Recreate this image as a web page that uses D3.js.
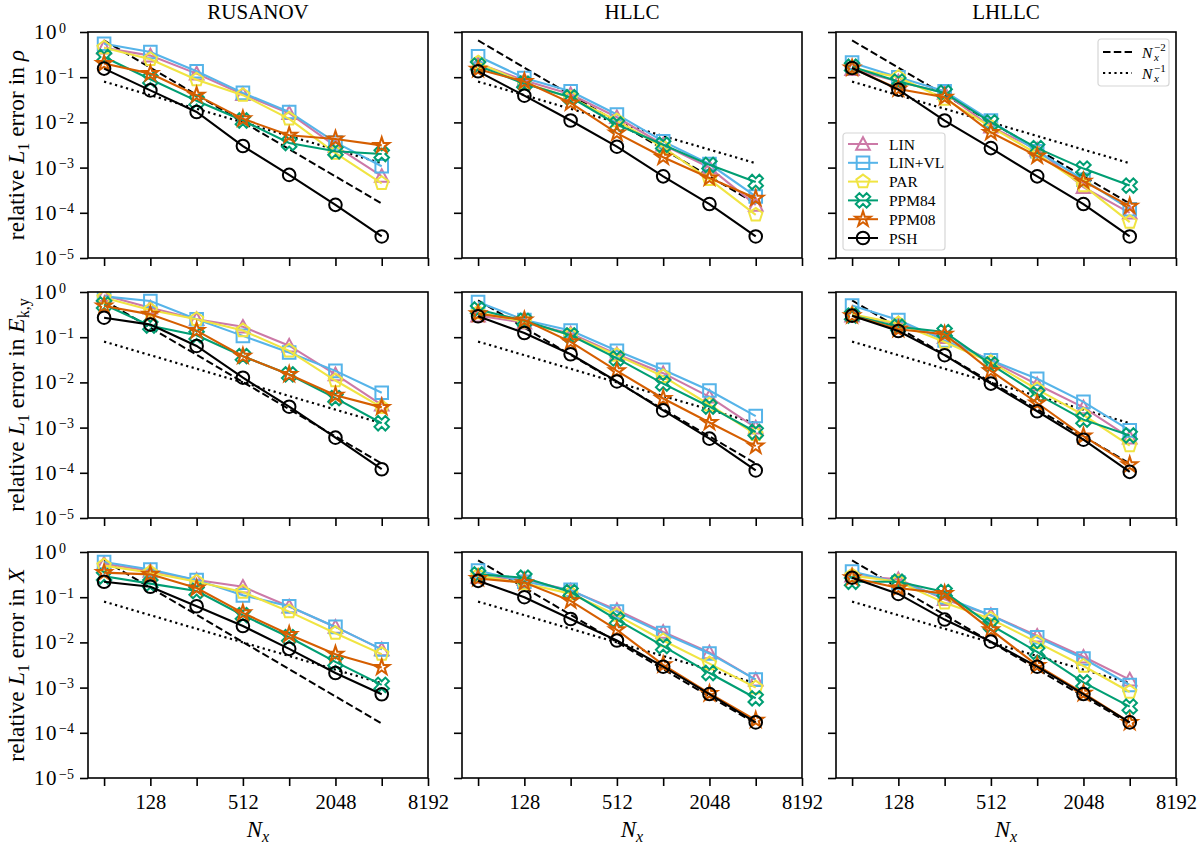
<html>
<head>
	<title>Convergence of L1 errors</title>
	<script src="https://d3js.org/d3.v7.min.js"></script>
</head>
<body>
	<style> *{
		margin: 0px;
		padding: 0px;
	}
	body { background: white; }
	text { font-family: "Liberation Serif", "DejaVu Serif", serif; fill: black; }
	</style>

	<svg id="SVGcanvas" xmlns="http://www.w3.org/2000/svg" width="1200" height="844"></svg>

	<script>
	// grid resolutions and axis ticks
	var nx = [64, 128, 256, 512, 1024, 2048, 4096];
	var xTicks = [64, 128, 256, 512, 1024, 2048, 4096, 8192];
	var xTickLabels = [128, 512, 2048, 8192];
	var yTicks = [1, 1e-1, 1e-2, 1e-3, 1e-4, 1e-5];
	var yTickExps = ["0", "\u22121", "\u22122", "\u22123", "\u22124", "\u22125"];

	var solvers = ["RUSANOV", "HLLC", "LHLLC"];
	var methods = ["LIN", "LIN+VL", "PAR", "PPM84", "PPM08", "PSH"];
	var methodColors = ["#CC79A7", "#56B4E9", "#F0E442", "#009E73", "#D55E00", "#000000"];
	var methodMarkers = ["triangle", "square", "pentagon", "xfilled", "star", "circle"];

	// reference slopes, drawn between the first and last resolution
	var refNx = [64, 4096];
	var refSlope2 = [0.65, 1.6e-4];
	var refSlope1 = [0.08, 1.25e-3];

	// errors, one row per method (LIN, LIN+VL, PAR, PPM84, PPM08, PSH)
	var rusanovRho = [
		[0.45, 0.30, 0.12, 0.042, 0.016, 3.0e-3, 6.5e-4],
		[0.55, 0.36, 0.135, 0.045, 0.017, 3.6e-3, 1.07e-3],
		[0.45, 0.25, 0.088, 0.040, 0.012, 2.1e-3, 4.5e-4],
		[0.28, 0.09, 0.030, 0.011, 3.5e-3, 2.3e-3, 2.0e-3],
		[0.20, 0.12, 0.040, 0.012, 5.2e-3, 4.3e-3, 3.1e-3],
		[0.155, 0.051, 0.017, 3.0e-3, 6.9e-4, 1.5e-4, 3.0e-5]
	];
	var hllcRho = [
		[0.20, 0.085, 0.042, 0.013, 3.2e-3, 1.0e-3, 1.5e-4],
		[0.29, 0.096, 0.049, 0.015, 3.8e-3, 1.2e-3, 2.3e-4],
		[0.21, 0.075, 0.035, 0.011, 2.8e-3, 5.5e-4, 9.0e-5],
		[0.18, 0.072, 0.036, 0.009, 3.2e-3, 1.15e-3, 4.8e-4],
		[0.15, 0.080, 0.027, 5.8e-3, 1.7e-3, 5.9e-4, 2.1e-4],
		[0.135, 0.039, 0.011, 2.9e-3, 6.4e-4, 1.56e-4, 3.0e-5]
	];
	var lhllcRho = [
		[0.15, 0.080, 0.045, 8.0e-3, 2.5e-3, 3.7e-4, 1.0e-4],
		[0.21, 0.10, 0.049, 0.011, 2.3e-3, 5.4e-4, 1.2e-4],
		[0.16, 0.10, 0.033, 8.0e-3, 2.0e-3, 4.0e-4, 6.2e-5],
		[0.17, 0.080, 0.045, 0.010, 2.7e-3, 9.5e-4, 4.0e-4],
		[0.16, 0.055, 0.036, 6.0e-3, 1.8e-3, 5.0e-4, 1.4e-4],
		[0.16, 0.053, 0.011, 2.7e-3, 6.4e-4, 1.56e-4, 3.0e-5]
	];
	var rusanovEky = [
		[0.85, 0.45, 0.25, 0.17, 0.065, 0.015, 3.2e-3],
		[0.80, 0.63, 0.25, 0.107, 0.046, 0.018, 5.9e-3],
		[0.75, 0.40, 0.25, 0.14, 0.050, 0.011, 2.8e-3],
		[0.53, 0.18, 0.11, 0.038, 0.015, 4.5e-3, 1.25e-3],
		[0.49, 0.32, 0.14, 0.038, 0.015, 5.2e-3, 2.8e-3],
		[0.27, 0.19, 0.064, 0.0127, 2.9e-3, 6.0e-4, 1.2e-4]
	];
	var hllcEky = [
		[0.30, 0.21, 0.12, 0.042, 0.016, 4.8e-3, 1.0e-3],
		[0.60, 0.24, 0.14, 0.050, 0.019, 6.6e-3, 1.8e-3],
		[0.35, 0.22, 0.11, 0.040, 0.0136, 3.2e-3, 7.1e-4],
		[0.41, 0.23, 0.11, 0.034, 9.4e-3, 2.9e-3, 8.0e-4],
		[0.33, 0.24, 0.079, 0.018, 4.4e-3, 1.3e-3, 3.9e-4],
		[0.29, 0.124, 0.042, 0.0105, 2.4e-3, 5.7e-4, 1.13e-4]
	];
	var lhllcEky = [
		[0.30, 0.20, 0.10, 0.030, 9.0e-3, 2.8e-3, 6.0e-4],
		[0.50, 0.24, 0.085, 0.031, 0.012, 3.7e-3, 8.7e-4],
		[0.32, 0.20, 0.078, 0.028, 7.0e-3, 1.9e-3, 4.0e-4],
		[0.30, 0.17, 0.13, 0.025, 5.5e-3, 1.5e-3, 6.7e-4],
		[0.30, 0.15, 0.116, 0.018, 3.5e-3, 6.5e-4, 1.5e-4],
		[0.30, 0.137, 0.040, 9.4e-3, 2.3e-3, 5.4e-4, 1.05e-4]
	];
	var rusanovX = [
		[0.55, 0.38, 0.24, 0.17, 0.062, 0.022, 7.0e-3],
		[0.60, 0.41, 0.24, 0.11, 0.063, 0.022, 7.0e-3],
		[0.50, 0.35, 0.22, 0.13, 0.048, 0.016, 5.5e-3],
		[0.29, 0.20, 0.137, 0.040, 0.013, 3.7e-3, 1.15e-3],
		[0.35, 0.32, 0.16, 0.045, 0.015, 5.5e-3, 2.8e-3],
		[0.22, 0.17, 0.063, 0.023, 7.2e-3, 2.1e-3, 7.1e-4]
	];
	var hllcX = [
		[0.28, 0.25, 0.14, 0.052, 0.017, 6.0e-3, 1.5e-3],
		[0.39, 0.22, 0.145, 0.048, 0.016, 5.7e-3, 1.5e-3],
		[0.30, 0.20, 0.12, 0.040, 0.011, 3.4e-3, 1.0e-3],
		[0.32, 0.27, 0.13, 0.032, 8.3e-3, 2.1e-3, 5.8e-4],
		[0.26, 0.21, 0.083, 0.019, 3.2e-3, 7.4e-4, 1.9e-4],
		[0.23, 0.10, 0.033, 0.011, 2.9e-3, 7.2e-4, 1.7e-4]
	];
	var lhllcX = [
		[0.30, 0.25, 0.090, 0.040, 0.014, 4.8e-3, 1.5e-3],
		[0.37, 0.21, 0.10, 0.040, 0.013, 4.4e-3, 1.14e-3],
		[0.30, 0.22, 0.075, 0.033, 0.010, 3.0e-3, 8.0e-4],
		[0.22, 0.22, 0.13, 0.024, 6.2e-3, 1.3e-3, 3.8e-4],
		[0.27, 0.16, 0.12, 0.019, 3.1e-3, 7.5e-4, 1.7e-4],
		[0.27, 0.118, 0.032, 0.0104, 2.9e-3, 7.2e-4, 1.7e-4]
	];

	var panels = [
		[rusanovRho, hllcRho, lhllcRho],
		[rusanovEky, hllcEky, lhllcEky],
		[rusanovX, hllcX, lhllcX]
	];

	// layout
	var colLeft = [88, 462, 836], panelWidth = 340;
	var rowTop = [32, 292, 552], panelHeight = 226;
	var tickLen = 8;

	var svg = d3.select( "#SVGcanvas" );

	var xScale = d3.scaleLog().domain( [50.3, 8192] ).range( [0, panelWidth] );
	var yScale = d3.scaleLog().domain( [1e-5, 1] ).range( [panelHeight, 0] );

	// marker outlines, centred on 0,0
	function markerPath( kind ) {
		var r = 6.3, i, pts = [];
		if ( kind == "circle" ) return d3.symbol().type( d3.symbolCircle ).size( Math.PI * r * r )();
		if ( kind == "square" ) return "M" + (-r) + "," + (-r) + "H" + r + "V" + r + "H" + (-r) + "Z";
		if ( kind == "triangle" ) return "M0," + (-r - 0.5) + "L" + (r + 0.5) + "," + (r - 0.5) + "L" + (-r - 0.5) + "," + (r - 0.5) + "Z";
		if ( kind == "pentagon" ) {
			for ( i = 0; i < 5; i++ ) {
				var a = -Math.PI / 2 + i * 2 * Math.PI / 5;
				pts.push( [ (r + 0.7) * Math.cos( a ), (r + 0.7) * Math.sin( a ) ] );
			}
			return "M" + pts.join( "L" ) + "Z";
		}
		if ( kind == "star" ) {
			for ( i = 0; i < 10; i++ ) {
				var b = -Math.PI / 2 + i * Math.PI / 5;
				var rr = ( i % 2 == 0 ) ? r + 1.8 : ( r + 1.8 ) * 0.381966;
				pts.push( [ rr * Math.cos( b ), rr * Math.sin( b ) ] );
			}
			return "M" + pts.join( "L" ) + "Z";
		}
		if ( kind == "xfilled" ) {
			var s = 14.5;
			var q = [ [0.25, 0], [0.5, 0.25], [0.25, 0.5], [0, 0.25], [-0.25, 0.5], [-0.5, 0.25],
				[-0.25, 0], [-0.5, -0.25], [-0.25, -0.5], [0, -0.25], [0.25, -0.5], [0.5, -0.25] ];
			return "M" + q.map( function ( p ) { return [ p[0] * s, p[1] * s ]; } ).join( "L" ) + "Z";
		}
	}

	function drawPanel( row, col ) {
		var data = panels[row][col];
		var g = svg.append( "g" ).attr( "transform", "translate(" + colLeft[col] + "," + rowTop[row] + ")" );

		g.append( "clipPath" ).attr( "id", "clip" + row + col )
			.append( "rect" ).attr( "width", panelWidth ).attr( "height", panelHeight );

		var plot = g.append( "g" ).attr( "clip-path", "url(#clip" + row + col + ")" );

		var line = d3.line()
			.x( function ( d ) { return xScale( d[0] ); } )
			.y( function ( d ) { return yScale( d[1] ); } );

		// reference slopes
		plot.append( "path" )
			.attr( "d", line( d3.zip( refNx, refSlope2 ) ) )
			.attr( "fill", "none" ).attr( "stroke", "black" ).attr( "stroke-width", 2 )
			.attr( "stroke-dasharray", "7.5,3.3" );
		plot.append( "path" )
			.attr( "d", line( d3.zip( refNx, refSlope1 ) ) )
			.attr( "fill", "none" ).attr( "stroke", "black" ).attr( "stroke-width", 2.2 )
			.attr( "stroke-dasharray", "2.2,3.5" );

		for ( var m = 0; m < methods.length; m++ ) {
			var pts = d3.zip( nx, data[m] );
			plot.append( "path" )
				.attr( "d", line( pts ) )
				.attr( "fill", "none" ).attr( "stroke", methodColors[m] ).attr( "stroke-width", 2.1 );
			plot.selectAll( null ).data( pts ).enter()
				.append( "path" )
				.attr( "d", markerPath( methodMarkers[m] ) )
				.attr( "transform", function ( d ) { return "translate(" + xScale( d[0] ) + "," + yScale( d[1] ) + ")"; } )
				.attr( "fill", "none" ).attr( "stroke", methodColors[m] ).attr( "stroke-width", 2 )
				.attr( "stroke-linejoin", "miter" );
		}

		// frame
		g.append( "rect" ).attr( "width", panelWidth ).attr( "height", panelHeight )
			.attr( "fill", "none" ).attr( "stroke", "black" ).attr( "stroke-width", 1.6 );

		// x ticks
		var xAxis = d3.axisBottom( xScale ).tickValues( xTicks ).tickSize( tickLen )
			.tickFormat( function ( d ) {
				return ( row == 2 && xTickLabels.indexOf( d ) >= 0 ) ? d : "";
			} );
		var xg = g.append( "g" ).attr( "transform", "translate(0," + panelHeight + ")" ).call( xAxis );
		xg.select( ".domain" ).remove();
		xg.selectAll( ".tick line" ).attr( "stroke", "black" ).attr( "stroke-width", 1.6 );
		xg.selectAll( ".tick text" )
			.attr( "font-family", "Liberation Serif" ).attr( "font-size", 20.5 )
			.attr( "fill", "black" ).attr( "dy", null ).attr( "y", 31 );

		// y ticks
		var yAxis = d3.axisLeft( yScale ).tickValues( yTicks ).tickSize( tickLen ).tickFormat( "" );
		var yg = g.append( "g" ).call( yAxis );
		yg.select( ".domain" ).remove();
		yg.selectAll( ".tick line" ).attr( "stroke", "black" ).attr( "stroke-width", 1.6 );

		if ( col == 0 ) {
			yTicks.forEach( function ( t, i ) {
				var ty = yScale( t );
				g.append( "text" ).attr( "x", -30 ).attr( "y", ty + 7 )
					.attr( "text-anchor", "end" ).attr( "font-size", 21 ).attr( "letter-spacing", 1.5 )
					.text( "10" );
				g.append( "text" ).attr( "x", -29 ).attr( "y", ty + 0.5 )
					.attr( "font-size", 14 ).text( yTickExps[i] );
			} );
		}
	}

	for ( var r = 0; r < 3; r++ )
		for ( var c = 0; c < 3; c++ )
			drawPanel( r, c );

	// column titles
	solvers.forEach( function ( s, c ) {
		svg.append( "text" ).attr( "x", colLeft[c] + panelWidth / 2 ).attr( "y", 19 )
			.attr( "text-anchor", "middle" ).attr( "font-size", 21 ).text( s );
	} );

	// x labels
	colLeft.forEach( function ( x0 ) {
		var t = svg.append( "text" ).attr( "x", x0 + panelWidth / 2 ).attr( "y", 837 )
			.attr( "text-anchor", "middle" ).attr( "font-size", 23 );
		t.append( "tspan" ).attr( "font-style", "italic" ).text( "N" );
		t.append( "tspan" ).attr( "font-style", "italic" ).attr( "font-size", 16 ).attr( "dy", 5 ).text( "x" );
	} );

	// y labels
	var yLabelEnds = [
		function ( t ) { t.append( "tspan" ).attr( "font-style", "italic" ).text( "\u03c1" ); },
		function ( t ) {
			t.append( "tspan" ).attr( "font-style", "italic" ).text( "E" );
			t.append( "tspan" ).attr( "font-size", 16 ).attr( "dy", 5 ).text( "k,y" );
		},
		function ( t ) { t.append( "tspan" ).attr( "font-style", "italic" ).text( "X" ); }
	];
	rowTop.forEach( function ( y0, r ) {
		var cy = y0 + panelHeight / 2;
		var t = svg.append( "text" ).attr( "text-anchor", "middle" ).attr( "font-size", 23.5 )
			.attr( "transform", "translate(24," + cy + ") rotate(-90)" );
		t.append( "tspan" ).text( "relative " );
		t.append( "tspan" ).attr( "font-style", "italic" ).text( "L" );
		t.append( "tspan" ).attr( "font-size", 16 ).attr( "dy", 5 ).text( "1" );
		t.append( "tspan" ).attr( "dy", -5 ).text( " error in " );
		yLabelEnds[r]( t );
	} );

	// legend of methods
	var leg = svg.append( "g" ).attr( "transform", "translate(843,133)" );
	leg.append( "rect" ).attr( "width", 102 ).attr( "height", 117 ).attr( "rx", 3 )
		.attr( "fill", "white" ).attr( "fill-opacity", 0.8 ).attr( "stroke", "#d6d6d6" ).attr( "stroke-width", 1.2 );
	methods.forEach( function ( name, m ) {
		var ly = 11 + m * 18.8;
		leg.append( "line" ).attr( "x1", 5 ).attr( "x2", 35 ).attr( "y1", ly ).attr( "y2", ly )
			.attr( "stroke", methodColors[m] ).attr( "stroke-width", 2 );
		leg.append( "path" ).attr( "d", markerPath( methodMarkers[m] ) )
			.attr( "transform", "translate(20," + ly + ")" )
			.attr( "fill", "none" ).attr( "stroke", methodColors[m] ).attr( "stroke-width", 2 );
		leg.append( "text" ).attr( "x", 46 ).attr( "y", ly + 5.5 ).attr( "font-size", 15.5 ).text( name );
	} );

	// legend of reference slopes
	var leg2 = svg.append( "g" ).attr( "transform", "translate(1098,39)" );
	leg2.append( "rect" ).attr( "width", 71 ).attr( "height", 47 ).attr( "rx", 3 )
		.attr( "fill", "white" ).attr( "fill-opacity", 0.8 ).attr( "stroke", "#d6d6d6" ).attr( "stroke-width", 1.2 );
	[ ["7.5,3.3", "\u22122"], ["2.2,3.5", "\u22121"] ].forEach( function ( item, i ) {
		var ly = 13 + i * 21;
		leg2.append( "line" ).attr( "x1", 5 ).attr( "x2", 34 ).attr( "y1", ly ).attr( "y2", ly )
			.attr( "stroke", "black" ).attr( "stroke-width", 2 ).attr( "stroke-dasharray", item[0] );
		leg2.append( "text" ).attr( "x", 44 ).attr( "y", ly + 5.5 ).attr( "font-size", 15.5 )
			.attr( "font-style", "italic" ).text( "N" );
		leg2.append( "text" ).attr( "x", 56 ).attr( "y", ly + 8.5 ).attr( "font-size", 11 )
			.attr( "font-style", "italic" ).text( "x" );
		leg2.append( "text" ).attr( "x", 56 ).attr( "y", ly - 1.5 ).attr( "font-size", 11 ).text( item[1] );
	} );
	</script>

</body>
</html>
